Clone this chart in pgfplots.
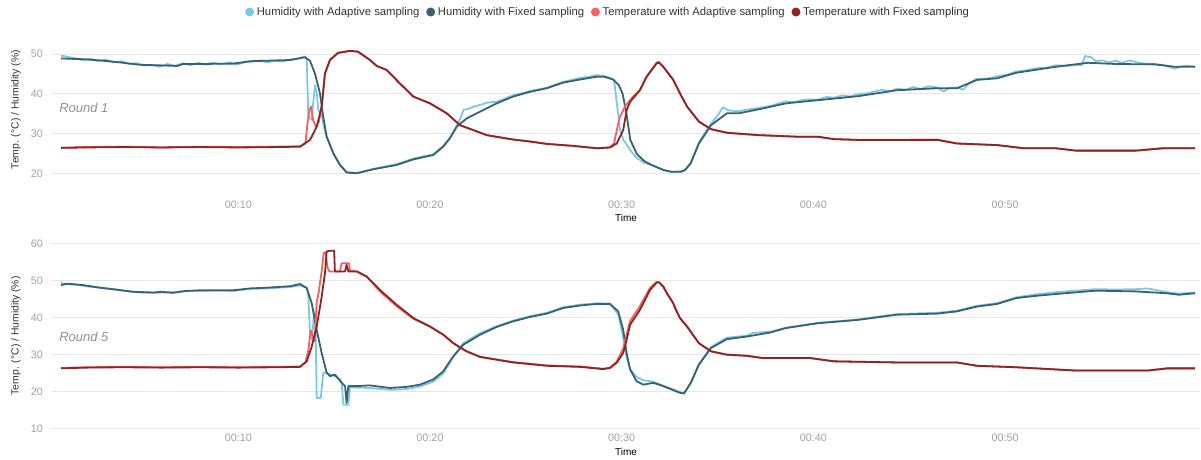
\documentclass[border=0pt]{standalone}
\usepackage{fontspec}
\setmainfont{Liberation Sans}
\usepackage{pgfplots}
\pgfplotsset{compat=1.18}
\definecolor{hacol}{RGB}{125,200,230}
\definecolor{hfcol}{RGB}{58,98,110}
\definecolor{tacol}{RGB}{245,95,95}
\definecolor{tfcol}{RGB}{140,38,38}
\definecolor{gridc}{RGB}{230,230,230}
\definecolor{labc}{RGB}{160,160,160}
\definecolor{titc}{RGB}{51,51,51}
\definecolor{roundc}{RGB}{145,145,145}
\pgfplotsset{
 common/.style={
  scale only axis, width=1148pt,
  xmin=0.28, xmax=60.17,
  axis line style={draw=none},
  major tick length=0pt,
  ymajorgrids, grid style={draw=gridc, line width=1pt},
  xtick={10,20,30,40,50}, xticklabels={00:10,00:20,00:30,00:40,00:50},
  /pgf/number format/assume math mode=true,
  ticklabel style={font=\fontsize{10.8}{12}\selectfont, text=labc},
  yticklabel style={inner sep=0pt, anchor=east, xshift=-9pt},
  ylabel={Temp. (°C) / Humidity (\%)},
  xlabel={Time},
  label style={font=\fontsize{10.8}{13}\selectfont, text=titc},
  every axis y label/.style={at={(0,0.5)}, rotate=90, anchor=center, yshift=36pt, inner sep=0pt, font=\fontsize{10.4}{12}\selectfont, text=titc},
  every axis plot/.append style={line width=1.8pt, line join=round, no markers},
 },
}
\begin{document}
\begin{tikzpicture}
% ---------------- Round 1 ----------------
\begin{axis}[common,
  at={(52pt,285.7pt)}, anchor=south west, height=127.2pt,
  ymin=20, ymax=52, ytick={20,30,40,50},
  xticklabel style={inner sep=0pt, anchor=north, yshift=-27.3pt},
  every axis x label/.style={at={(0.5,0)}, anchor=north, yshift=-41.2pt, inner sep=0pt},
  legend style={at={(0.4835,1.268)}, anchor=center, draw=none, fill=none,
    legend columns=4, font=\fontsize{11.3}{13}\selectfont, text=titc,
    nodes={inner sep=0pt}, column sep=0pt,
    /tikz/every odd column/.append style={column sep=2.7pt},
    /tikz/every even column/.append style={column sep=6.7pt}},
  legend image code/.code={\fill[#1] (0pt,0pt) circle (4.5pt);},
]
\addlegendimage{fill=hacol, draw=none}
\addlegendentry{Humidity with Adaptive sampling}
\addlegendimage{fill=hfcol, draw=none}
\addlegendentry{Humidity with Fixed sampling}
\addlegendimage{fill=tacol, draw=none}
\addlegendentry{Temperature with Adaptive sampling}
\addlegendimage{fill=tfcol, draw=none}
\addlegendentry{Temperature with Fixed sampling}
% Humidity adaptive
\addplot[hacol, forget plot] coordinates {
(0.75,49.6)(1.1,49.3)(1.5,48.9)(1.9,48.5)(2.3,48.8)(2.7,48.2)(3.1,48.6)(3.5,47.9)(3.9,48.2)(4.3,47.5)(4.7,47.7)(5.1,47.1)(5.5,47.3)(5.9,46.8)(6.3,47.5)(6.7,47.0)(7.1,47.7)(7.5,47.2)(7.9,47.8)(8.3,47.3)(8.7,47.8)(9.1,47.4)(9.5,47.9)(9.9,47.3)(10.3,47.9)(10.7,48.1)(11.1,48.4)(11.5,47.9)(11.9,48.3)(12.3,48.1)(12.7,48.6)(13.1,48.8)(13.45,49.4)(13.57,48.7)(13.65,34.5)(13.82,33.5)(14.0,42.2)(14.1,40.0)(14.17,36.0)(14.35,34.5)(14.5,31.0)(14.61,29.2)(14.96,25.0)(15.3,22.2)(15.65,20.3)(16.18,20.1)(17.03,21.1)(18.26,22.3)(19.13,23.7)(20.17,24.8)(20.69,26.9)(21.04,29.0)(21.39,31.9)(21.6,34)(21.75,36)(22.0,36.2)(22.3,36.8)(22.61,37.2)(23.0,37.8)(23.48,38.0)(24.33,39.6)(25.22,40.7)(26.09,41.5)(26.94,43.0)(27.83,44.0)(28.3,44.3)(28.7,44.7)(29.08,44.5)(29.4,44.0)(29.6,43.5)(29.74,38)(29.91,31)(30.08,28.5)(30.26,27.2)(30.44,25.8)(30.8,23.8)(31.2,22.6)(31.6,22.0)(32.2,20.8)(32.6,20.3)(33.1,20.5)(33.3,20.9)(33.6,22.6)(34.03,27.8)(34.66,32.5)(35.0,34.5)(35.28,36.6)(35.6,35.8)(36.12,35.6)(36.5,36.0)(36.85,36.2)(37.35,36.6)(37.8,37.0)(38.2,37.6)(38.57,38.1)(39.0,37.9)(39.4,38.4)(39.8,38.6)(40.24,38.5)(40.7,39.2)(41.1,39.0)(41.5,39.6)(41.9,39.3)(42.33,39.9)(42.8,40.1)(43.2,40.6)(43.6,41.0)(44.0,40.6)(44.36,41.3)(44.8,41.0)(45.2,41.7)(45.6,41.2)(46.0,41.9)(46.45,41.6)(46.8,40.6)(47.1,41.5)(47.49,41.6)(47.8,41.0)(48.1,42.5)(48.53,43.8)(49.0,43.7)(49.58,44.4)(50.1,44.8)(50.59,45.6)(51.0,45.8)(51.6,46.4)(52.2,46.6)(52.65,47.2)(53.2,47.0)(53.7,47.3)(54.0,47.2)(54.17,49.5)(54.5,49.2)(54.74,48.2)(55.1,48.4)(55.4,47.9)(55.78,48.3)(56.1,47.8)(56.5,48.4)(56.9,47.9)(57.3,47.6)(57.82,47.5)(58.3,47.2)(58.86,46.3)(59.2,46.9)(59.5,47.1)(59.91,46.8)
};
% Humidity fixed
\addplot[hfcol, forget plot] coordinates {
(0.75,48.9)(1.9,48.7)(2.79,48.4)(3.83,47.9)(4.87,47.3)(6.28,47.1)(6.8,47.0)(7.12,47.5)(8.0,47.5)(9.72,47.6)(10.2,47.9)(10.61,48.2)(12.7,48.5)(13.48,49.2)(13.74,48.3)(14.0,45.1)(14.26,40.1)(14.43,34.2)(14.61,29.2)(14.96,25.0)(15.3,22.1)(15.65,20.2)(16.18,20.0)(17.03,21.0)(18.26,22.1)(19.13,23.5)(20.17,24.6)(20.69,26.7)(21.04,28.8)(21.39,31.7)(21.91,33.8)(22.61,35.5)(23.48,37.6)(24.33,39.3)(25.22,40.5)(26.09,41.4)(26.94,42.8)(27.83,43.6)(28.7,44.3)(29.08,44.3)(29.55,43.6)(29.85,42.2)(30.05,40.0)(30.25,35.0)(30.45,28.4)(30.8,24.8)(31.2,23.0)(31.6,22.0)(32.2,20.8)(32.6,20.4)(33.1,20.4)(33.3,20.8)(33.6,22.5)(34.03,27.5)(34.66,32.1)(35.49,35.1)(36.12,35.1)(37.35,36.3)(38.57,37.6)(40.24,38.4)(42.33,39.4)(44.36,40.9)(46.45,41.4)(47.49,41.4)(48.53,43.5)(49.58,43.9)(50.59,45.3)(52.65,46.8)(54.32,47.8)(55.78,47.5)(57.82,47.4)(58.86,46.8)(59.91,46.8)
};
% Temperature adaptive
\addplot[tacol, forget plot] coordinates {
(0.75,26.4)(2,26.6)(4,26.7)(6,26.5)(8,26.7)(10,26.6)(12,26.7)(13.22,26.8)(13.5,27.5)(13.62,33)(13.72,36.2)(13.8,36.8)(13.9,33.4)(14.05,31.7)(14.2,33)(14.35,36.8)(14.52,45.1)(14.78,48.5)(15.2,50.3)(15.83,50.8)(16.24,50.6)(16.87,48.5)(17.22,47)(17.74,46)(18.43,42.6)(19.13,39.3)(20.0,37.6)(20.87,35.1)(21.57,32.1)(22.24,30.9)(22.96,29.6)(24.33,28.5)(25.22,28.0)(26.09,27.4)(27.46,26.9)(28.7,26.3)(29.39,26.5)(29.6,27.5)(29.75,31)(29.91,34.2)(30.17,36.8)(30.59,39.3)(30.95,40.9)(31.3,44.3)(31.83,47.9)(31.95,48.0)(32.17,46.8)(32.69,43.5)(33.04,40.1)(33.41,36.8)(34.03,33)(34.66,31.1)(35.49,30.2)(37.14,29.6)(39.2,29.2)(40.24,29.2)(41.07,28.6)(42.33,28.4)(46.45,28.5)(47.49,27.5)(49.58,27.1)(50.99,26.3)(52.65,26.3)(53.7,25.7)(56.81,25.7)(58.24,26.3)(59.91,26.3)
};
% Temperature fixed
\addplot[tfcol, forget plot] coordinates {
(0.75,26.4)(2,26.5)(4,26.6)(6,26.5)(8,26.6)(10,26.5)(12,26.6)(13.22,26.7)(13.74,28.4)(14.09,31.7)(14.35,36.8)(14.52,45.1)(14.78,48.5)(15.2,50.3)(15.83,50.8)(16.24,50.6)(16.87,48.5)(17.22,47)(17.74,46)(18.43,42.6)(19.13,39.3)(20.0,37.6)(20.87,35.1)(21.57,32.1)(22.24,30.9)(22.96,29.6)(24.33,28.5)(25.22,28.0)(26.09,27.4)(27.46,26.9)(28.7,26.3)(29.39,26.5)(29.74,27.5)(30.08,30.9)(30.26,35.9)(30.44,38)(30.95,40.9)(31.3,44.3)(31.83,47.7)(31.95,47.8)(32.17,46.8)(32.69,43.5)(33.04,40.1)(33.41,36.8)(34.03,33)(34.66,31.1)(35.49,30.2)(37.14,29.6)(39.2,29.2)(40.24,29.2)(41.07,28.6)(42.33,28.4)(46.45,28.4)(47.49,27.5)(49.58,27.1)(50.99,26.3)(52.65,26.3)(53.7,25.7)(56.81,25.7)(58.24,26.3)(59.91,26.3)
};
\node[anchor=west, inner sep=0pt, font=\itshape\fontsize{13}{15}\selectfont, text=roundc] at (axis cs:0.65,36.4) {Round 1};
\end{axis}
% ---------------- Round 5 ----------------
\begin{axis}[common,
  at={(52pt,30.7pt)}, anchor=south west, height=185pt,
  ymin=10, ymax=60, ytick={10,20,30,40,50,60},
  xticklabel style={inner sep=0pt, anchor=north, yshift=-5.8pt},
  every axis x label/.style={at={(0.5,0)}, anchor=north, yshift=-19.7pt, inner sep=0pt},
]
\addplot[hacol] coordinates {
(0.75,49.6)(0.85,48.9)(1.5,48.9)(2.2,48.3)(2.79,48.0)(3.5,47.6)(4.52,46.8)(5.56,46.6)(6.6,46.8)(7.3,47.1)(8.0,47.1)(9.0,47.2)(9.72,47.1)(10.6,47.7)(11.5,47.8)(12.7,48.2)(13.22,48.6)(13.57,48.0)(13.65,46)(13.74,35.5)(13.85,34)(13.95,41.6)(14.02,40)(14.09,18.2)(14.3,18.2)(14.43,25)(14.61,25)(14.96,24.3)(15.3,23.3)(15.39,22.5)(15.48,16.4)(15.74,16.4)(15.83,21.2)(16.18,21.0)(16.87,20.9)(17.91,20.4)(18.78,20.6)(19.48,21.3)(20.17,22.6)(20.69,24.8)(21.22,29.3)(21.74,33.0)(22.61,35.7)(23.48,37.6)(24.33,39.1)(25.22,40.3)(26.09,41.2)(26.94,42.7)(27.83,43.4)(28.7,43.8)(29.39,43.7)(29.82,40.8)(30.08,34.5)(30.26,29.0)(30.44,26.0)(30.78,23.9)(31.13,23.0)(31.65,22.6)(32.17,21.5)(33.04,19.8)(33.25,19.5)(33.61,22.4)(34.03,27.4)(34.66,32.0)(35.49,34.5)(36.52,35.0)(36.85,35.8)(37.76,36.1)(38.57,37.2)(40.24,38.5)(42.33,39.4)(44.36,40.9)(46.45,41.2)(47.49,41.8)(48.53,43.1)(49.58,43.8)(50.59,45.4)(51.61,46.2)(52.65,46.8)(53.7,47.2)(54.74,47.6)(55.78,47.5)(56.81,47.6)(57.43,47.8)(58.45,46.8)(59.07,46.4)(59.91,46.7)
};
\addplot[hfcol] coordinates {
(0.75,48.7)(1.05,49.1)(1.9,48.7)(2.79,48.0)(3.6,47.5)(4.52,46.9)(5.56,46.7)(6.0,46.9)(6.6,46.6)(7.2,47.1)(8.0,47.3)(9.72,47.3)(10.6,47.8)(11.5,48.0)(12.7,48.4)(13.22,49.0)(13.57,47.9)(13.83,43.8)(14.09,36.6)(14.35,30.3)(14.61,25.0)(14.78,24.1)(15.04,24.5)(15.39,22.3)(15.57,21.4)(15.65,16.9)(15.74,21.4)(16.18,21.4)(16.87,21.6)(17.91,20.9)(18.78,21.2)(19.48,21.8)(20.17,23.2)(20.69,25.4)(21.22,29.5)(21.74,32.6)(22.61,35.3)(23.48,37.4)(24.33,38.9)(25.22,40.1)(26.09,41)(26.94,42.5)(27.83,43.2)(28.7,43.6)(29.39,43.6)(29.82,41.6)(30.08,36.6)(30.26,30.3)(30.44,25.9)(30.78,22.7)(31.13,21.8)(31.65,22.3)(32.17,21.4)(33.04,19.6)(33.25,19.4)(33.61,22.3)(34.03,27.2)(34.66,31.7)(35.49,34.1)(36.52,34.8)(37.76,35.9)(38.57,37.1)(40.24,38.4)(42.33,39.3)(44.36,40.7)(46.45,41.0)(47.49,41.6)(48.53,42.9)(49.58,43.6)(50.59,45.2)(51.61,45.8)(52.65,46.3)(54.74,47.2)(56.81,47.0)(58.45,46.5)(59.07,46.1)(59.91,46.5)
};
\addplot[tacol] coordinates {
(0.75,26.3)(2,26.5)(4,26.6)(6,26.5)(8,26.6)(10,26.5)(12,26.6)(13.22,26.7)(13.5,27.8)(13.65,31)(13.78,36.5)(13.88,35)(13.98,33.5)(14.09,44)(14.2,47)(14.35,52.5)(14.45,57.3)(14.55,57.6)(14.65,53.5)(14.75,52.4)(15.3,52.4)(15.39,54.6)(15.78,54.6)(15.83,52.6)(16.18,52.4)(16.7,51)(17.39,47.0)(18.26,43.0)(19.13,39.6)(20.0,37.5)(20.69,35.3)(21.22,33)(21.91,30.8)(22.61,29.3)(24.33,27.9)(26.09,27.0)(27.83,26.7)(29.04,26.1)(29.39,26.4)(29.74,28.0)(30.08,31.5)(30.26,35.5)(30.44,39.0)(30.95,43.0)(31.48,48.0)(31.83,49.6)(31.95,49.5)(32.17,48.3)(32.36,46.5)(32.69,43.8)(33.04,39.8)(33.41,37.5)(34.03,33)(34.66,30.8)(35.49,29.9)(36.52,29.6)(37.35,29.0)(39.82,29.0)(41.07,28.1)(44.36,27.8)(47.49,27.8)(48.53,26.9)(50.59,26.5)(53.7,25.6)(57.43,25.6)(58.45,26.2)(59.91,26.2)
};
\addplot[tfcol] coordinates {
(0.75,26.2)(2,26.4)(4,26.5)(6,26.4)(8,26.5)(10,26.4)(12,26.5)(13.22,26.6)(13.57,28.1)(13.83,32.1)(14.09,37.5)(14.35,45.6)(14.52,51.9)(14.61,57.8)(14.78,58.0)(15.0,58.0)(15.04,52.4)(15.57,52.4)(15.65,54.2)(15.74,52.4)(16.18,52.4)(16.7,51)(17.39,47.4)(18.26,43.4)(19.13,39.8)(20.0,37.5)(20.69,35.3)(21.22,33)(21.91,30.8)(22.61,29.3)(24.33,27.8)(26.09,26.9)(27.83,26.6)(29.04,26.0)(29.39,26.3)(29.74,27.7)(30.08,30.4)(30.26,33.9)(30.44,38)(30.95,42)(31.48,47.4)(31.83,49.4)(31.95,49.4)(32.17,48.3)(32.36,46.5)(32.69,43.8)(32.78,42.5)(33.04,39.8)(33.41,37.5)(34.03,33)(34.66,30.8)(35.49,29.9)(36.52,29.6)(37.35,29.0)(39.82,29.0)(41.07,28.1)(44.36,27.8)(47.49,27.8)(48.53,26.9)(50.59,26.5)(53.7,25.6)(57.43,25.6)(58.45,26.2)(59.91,26.2)
};
\node[anchor=west, inner sep=0pt, font=\itshape\fontsize{13}{15}\selectfont, text=roundc] at (axis cs:0.65,34.8) {Round 5};
\end{axis}
\pgfresetboundingbox
\path[use as bounding box] (0pt,0pt) rectangle (1201pt,459pt);
\end{tikzpicture}
\end{document}
